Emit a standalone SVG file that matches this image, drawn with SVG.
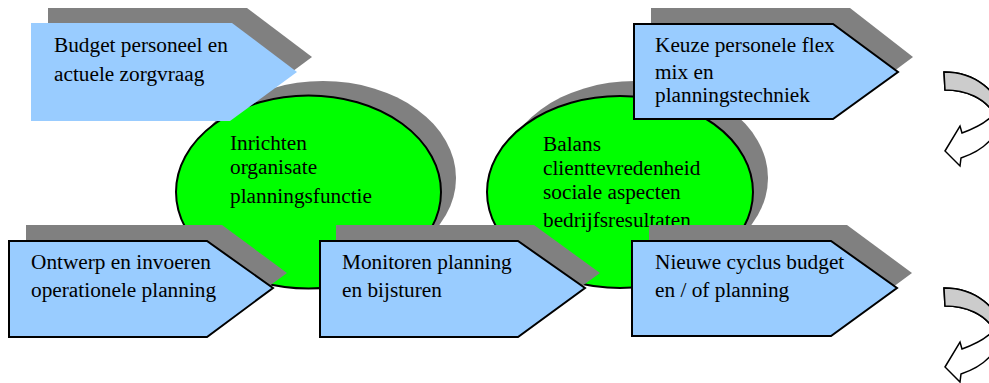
<svg xmlns="http://www.w3.org/2000/svg" width="989" height="383" viewBox="0 0 989 383">
<style>
.sh{fill:#808080;stroke:none}
.bl{fill:#99CCFF;stroke:#000;stroke-width:2}
.gr{fill:#00FF00;stroke:#000;stroke-width:2}
.t{font-family:'Liberation Serif','DejaVu Serif',serif;font-size:21.3px;fill:#000}
.arr{stroke:#000;stroke-width:1.5;stroke-linejoin:miter}
</style>
<defs>
<g id="curv">
<path class="arr" fill="#fff" d="M944,72 C975,72 1000,92 1000,115 C1000,135 985,150 961,158 L960,166 L945,151 L960,126 L962,133 C976,128 987,122 994,114 C985,98 966,90 945,90 Z"/>
<path class="arr" fill="#ccc" d="M944,72 C975,72 1000,92 1000,115 L994,114 C985,98 966,90 945,90 Z"/>
</g>
</defs>
<g id="ellipse-inrichten">
<ellipse class="sh" cx="323" cy="178" rx="133" ry="97"/>
<ellipse class="gr" cx="308.5" cy="192" rx="132.5" ry="96.5"/>
<text class="t" x="230" y="150">Inrichten</text>
<text class="t" x="230" y="174">organisate</text>
<text class="t" x="230" y="203">planningsfunctie</text>
</g>
<g id="ellipse-balans">
<ellipse class="sh" cx="635" cy="178" rx="133" ry="97"/>
<ellipse class="gr" cx="620" cy="192" rx="133" ry="96"/>
<text class="t" x="543" y="151">Balans</text>
<text class="t" x="543" y="175">clienttevredenheid</text>
<text class="t" x="543" y="199">sociale aspecten</text>
<text class="t" x="543" y="227">bedrijfsresultaten</text>
</g>
<g id="node-budget">
<polygon class="sh" points="48,8 247,8 312,57 246,106 48,106"/>
<polygon fill="#99CCFF" points="31,23 232,23 297,72 230,121 31,121"/>
<text class="t" x="54" y="52">Budget personeel en</text>
<text class="t" x="54" y="81">actuele zorgvraag</text>
</g>
<g id="node-keuze">
<polygon class="sh" points="651,8 850,8 913,57 850,104 651,104"/>
<polygon class="bl" points="634,24 833,24 898,72 833,119 634,119"/>
<text class="t" x="655" y="52">Keuze personele flex</text>
<text class="t" x="655" y="79">mix en</text>
<text class="t" x="655" y="102">planningstechniek</text>
</g>
<g id="node-ontwerp">
<polygon class="sh" points="26,225 222,225 287,273 222,321 26,321"/>
<polygon class="bl" points="9,241 207,241 273,288 207,337 9,337"/>
<text class="t" x="31" y="269">Ontwerp en invoeren</text>
<text class="t" x="31" y="297">operationele planning</text>
</g>
<g id="node-monitoren">
<polygon class="sh" points="336,225 534,225 600,273 534,321 336,321"/>
<polygon class="bl" points="320,241 518,241 585,288 518,337 320,337"/>
<text class="t" x="342" y="269">Monitoren planning</text>
<text class="t" x="342" y="297">en bijsturen</text>
</g>
<g id="node-nieuwe">
<polygon class="sh" points="649,225 847,225 912,273 847,321 649,321"/>
<polygon class="bl" points="632,241 831,241 897,288 831,336 632,336"/>
<text class="t" x="655" y="269">Nieuwe cyclus budget</text>
<text class="t" x="655" y="297">en / of planning</text>
</g>
<g id="connectors">
<use href="#curv"/>
<use href="#curv" transform="translate(0,216)"/>
</g>
</svg>
